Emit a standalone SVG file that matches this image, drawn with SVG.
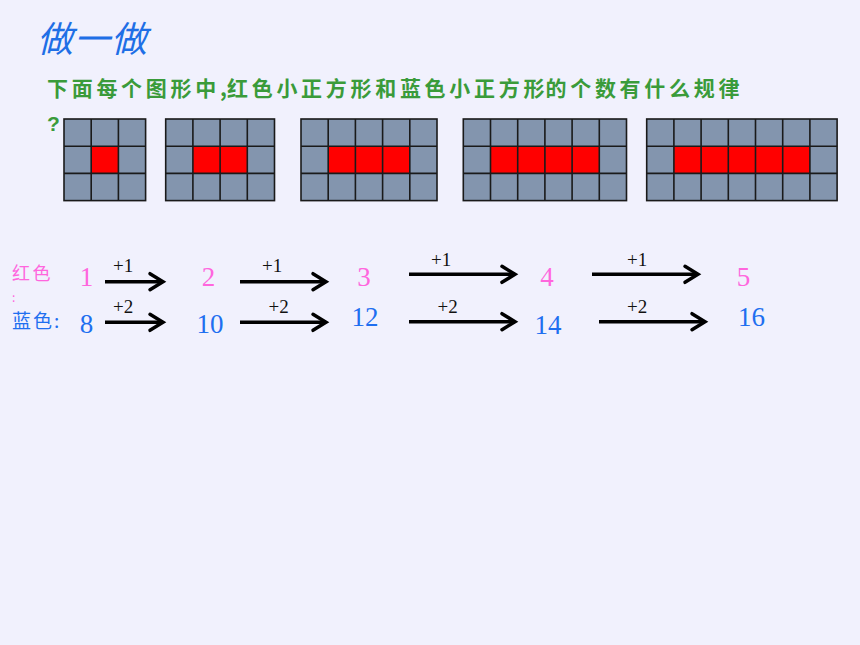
<svg xmlns="http://www.w3.org/2000/svg" width="860" height="645" viewBox="0 0 860 645">
<defs>
<style>
.cjk{font-family:"Noto Sans CJK SC","Noto Sans",sans-serif}
.title{font-size:36px;font-style:italic;fill:#1F6FE6}
.q{font-size:21px;font-weight:bold;fill:#3A9B3A;letter-spacing:3.7px}
.num{font-family:"Liberation Serif","DejaVu Serif",serif;font-size:27px;text-anchor:middle}
.pink{fill:#FF66DD}
.blue{fill:#1E6FF0}
.lbl{font-family:"Liberation Serif","DejaVu Serif",serif;font-size:19px;fill:#111}
.cell{fill:#8395AE;stroke:#1a1a1a;stroke-width:1.6}
.red{fill:#FF0000}
.gl{stroke:#1a1a1a;stroke-width:1.6;fill:none}
.arr{stroke:#000;stroke-width:3.5;fill:none;marker-end:url(#head)}
</style>
<marker id="head" markerUnits="userSpaceOnUse" markerWidth="20" markerHeight="24" refX="16" refY="12" orient="auto">
<path d="M3,4 L16,12 L3,20" fill="none" stroke="#000" stroke-width="3.5" stroke-linecap="round" stroke-linejoin="miter"/>
</marker>
</defs>
<rect width="860" height="645" fill="#F1F1FD"/>

<g id="title"><text class="cjk title" x="37" y="52" letter-spacing="1">做一做</text></g>

<g id="question">
<text class="cjk q" y="96"><tspan x="47">下面每个图形中,</tspan><tspan x="227">红色小正方形和蓝色小正方形</tspan><tspan x="545.5">的个数有什么规律</tspan></text>
<text class="q" font-family="Liberation Sans, sans-serif" x="47" y="131" font-size="22">?</text>
</g>

<g id="grid1" transform="translate(64,119)">
<rect class="cell" width="81.6" height="81.6"/>
<rect class="red" x="27.2" y="27.2" width="27.2" height="27.2"/>
<path class="gl" d="M27.2,0V81.6M54.4,0V81.6M0,27.2H81.6M0,54.4H81.6"/>
</g>
<g id="grid2" transform="translate(165.7,119)">
<rect class="cell" width="108.8" height="81.6"/>
<rect class="red" x="27.2" y="27.2" width="54.4" height="27.2"/>
<path class="gl" d="M27.2,0V81.6M54.4,0V81.6M81.6,0V81.6M0,27.2H108.8M0,54.4H108.8"/>
</g>
<g id="grid3" transform="translate(301,119)">
<rect class="cell" width="136" height="81.6"/>
<rect class="red" x="27.2" y="27.2" width="81.6" height="27.2"/>
<path class="gl" d="M27.2,0V81.6M54.4,0V81.6M81.6,0V81.6M108.8,0V81.6M0,27.2H136M0,54.4H136"/>
</g>
<g id="grid4" transform="translate(463.3,119)">
<rect class="cell" width="163.2" height="81.6"/>
<rect class="red" x="27.2" y="27.2" width="108.8" height="27.2"/>
<path class="gl" d="M27.2,0V81.6M54.4,0V81.6M81.6,0V81.6M108.8,0V81.6M136,0V81.6M0,27.2H163.2M0,54.4H163.2"/>
</g>
<g id="grid5" transform="translate(646.7,119)">
<rect class="cell" width="190.4" height="81.6"/>
<rect class="red" x="27.2" y="27.2" width="136" height="27.2"/>
<path class="gl" d="M27.2,0V81.6M54.4,0V81.6M81.6,0V81.6M108.8,0V81.6M136,0V81.6M163.2,0V81.6M0,27.2H190.4M0,54.4H190.4"/>
</g>

<g id="label-red">
<text class="cjk pink" x="12" y="280" font-size="18" letter-spacing="2.5">红色</text>
<text class="cjk pink" x="12" y="302" font-size="12">:</text>
</g>
<g id="label-blue"><text class="cjk blue" x="12" y="328" font-size="19" letter-spacing="2">蓝色:</text></g>

<g id="r1"><text class="num pink" x="86.5" y="286">1</text></g>
<g id="r2"><text class="num pink" x="208.5" y="286">2</text></g>
<g id="r3"><text class="num pink" x="364" y="286">3</text></g>
<g id="r4"><text class="num pink" x="547" y="286">4</text></g>
<g id="r5"><text class="num pink" x="743.5" y="286">5</text></g>
<g id="b1"><text class="num blue" x="86.5" y="333">8</text></g>
<g id="b2"><text class="num blue" x="210" y="333">10</text></g>
<g id="b3"><text class="num blue" x="365" y="326">12</text></g>
<g id="b4"><text class="num blue" x="548" y="334">14</text></g>
<g id="b5"><text class="num blue" x="751.5" y="326">16</text></g>

<g id="connectors">
<path class="arr" d="M105,281.7H163"/>
<path class="arr" d="M240,281.7H326"/>
<path class="arr" d="M409,274.3H515"/>
<path class="arr" d="M592,274.3H698"/>
<path class="arr" d="M105,322.3H163"/>
<path class="arr" d="M240,322.3H326"/>
<path class="arr" d="M409,321.7H515"/>
<path class="arr" d="M599,321.7H705"/>
<text class="lbl" x="113" y="272">+1</text>
<text class="lbl" x="262" y="272">+1</text>
<text class="lbl" x="431" y="265.7">+1</text>
<text class="lbl" x="627" y="265.7">+1</text>
<text class="lbl" x="113" y="313">+2</text>
<text class="lbl" x="268.5" y="313">+2</text>
<text class="lbl" x="437.5" y="313">+2</text>
<text class="lbl" x="627" y="313">+2</text>
</g>
</svg>
